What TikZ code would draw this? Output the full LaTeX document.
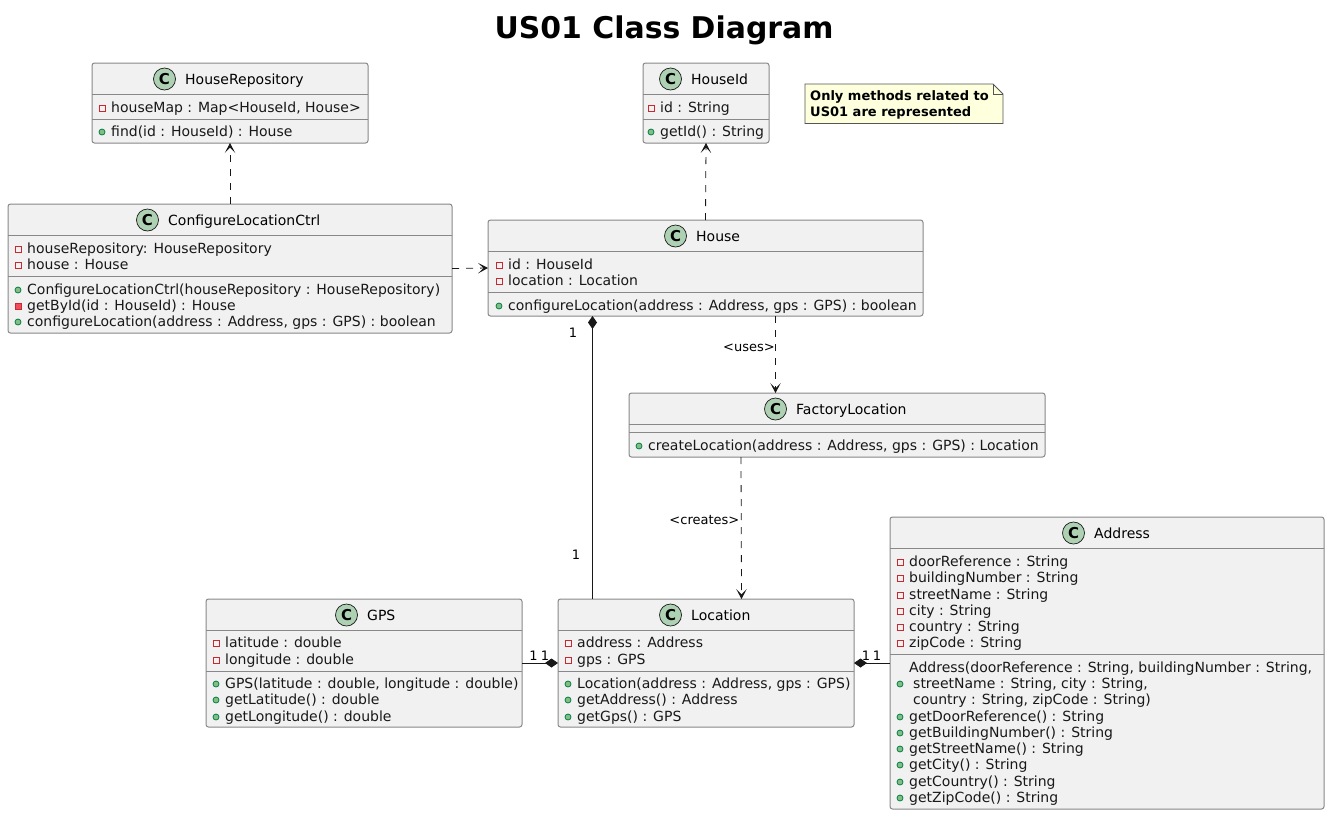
\documentclass[tikz,border=0pt]{standalone}
\usepackage{fontspec}
\setmainfont{DejaVu Sans}
\usetikzlibrary{arrows.meta,calc}
\definecolor{boxfill}{HTML}{F1F1F1}
\definecolor{boxline}{HTML}{888888}
\definecolor{ink}{HTML}{181818}
\definecolor{spot}{HTML}{ADD1B2}
\definecolor{fieldred}{HTML}{C82930}
\definecolor{privfill}{HTML}{F24D5C}
\definecolor{pubfill}{HTML}{84BE84}
\definecolor{publine}{HTML}{038048}
\definecolor{notefill}{HTML}{FEFFDD}
\definecolor{noteline}{HTML}{555555}
\newcounter{memc}
\tikzset{
  classbox/.style={draw=boxline,fill=boxfill,line width=1pt,rounded corners=2.5pt,inner sep=0pt,outer sep=0pt},
  sepline/.style={draw=boxline,line width=1pt},
  titletext/.style={font=\fontsize{14}{16}\selectfont,anchor=base,inner sep=0pt,text=black},
  membertext/.style={font=\fontsize{14}{16}\selectfont,anchor=base west,inner sep=0pt,text=ink},
  spotnode/.style={circle,draw=ink,fill=spot,line width=0.7pt,minimum size=22pt,inner sep=0pt,font=\fontsize{15}{15}\bfseries\selectfont},
  fieldmark/.style={draw=fieldred,line width=0.8pt,fill=none},
  privmark/.style={draw=fieldred,line width=0.8pt,fill=privfill},
  pubmark/.style={draw=publine,line width=0.8pt,fill=pubfill},
  dep/.style={draw=ink,line width=0.8pt,dash pattern=on 7pt off 7pt,-{Stealth[length=10pt,width=10.5pt,inset=5.5pt,fill=ink]}},
  comp/.style={draw=ink,line width=0.9pt,{Diamond[length=13pt,width=9pt,fill=ink]}-},
  mult/.style={font=\fontsize{13}{14}\selectfont,inner sep=0pt,text=black},
  deplabel/.style={font=\fontsize{13}{14}\selectfont,inner sep=0pt,text=black,anchor=east},
  notebody/.style={draw=noteline,line width=0.8pt,fill=notefill},
  notetext/.style={font=\fontsize{13}{16.2}\bfseries\selectfont,align=left,anchor=north west,inner sep=0pt,text=black}
}
% name, x1, y1, x2, y2, sep1, sep2, spot x, title x
\newcommand{\classat}[9]{%
  \pgfmathsetlengthmacro{\cw}{(#4)-(#2)}\pgfmathsetlengthmacro{\ch}{(#5)-(#3)}%
  \node[classbox,minimum width=\cw,minimum height=\ch] (#1) at ({((#2)+(#4))/2},{((#3)+(#5))/2}) {};
  \draw[sepline] (#2,#6) -- (#4,#6);
  \draw[sepline] (#2,#7) -- (#4,#7);
  \node[spotnode] (#1-spot) at (#8,{(#3)+16}) {C};
  \node[titletext,anchor=base west] (#1-title) at (#9,{(#3)+21}) {\classtitle};
}
\newcommand{\classtitle}{}
\newcommand{\memtext}[3]{\stepcounter{memc}\node[membertext] (m\arabic{memc}) at (#1,#2) {#3};}
\newcommand{\fld}[3]{\draw[fieldmark] ({(#1)-9-3},{(#2)-7}) rectangle ({(#1)-9+3},{(#2)-1}); \memtext{#1}{#2}{#3}}
\newcommand{\prv}[3]{\draw[privmark] ({(#1)-9-3},{(#2)-7}) rectangle ({(#1)-9+3},{(#2)-1}); \memtext{#1}{#2}{#3}}
\newcommand{\pub}[3]{\draw[pubmark] ({(#1)-9},{(#2)-4}) circle (3pt); \memtext{#1}{#2}{#3}}
\begin{document}
\begin{tikzpicture}[x=1pt,y=-1pt]
\useasboundingbox (0,0) rectangle (1330,815);
\fill[white] (0,0) rectangle (1330,815);
\node[font=\fontsize{29.9}{34}\bfseries\selectfont,anchor=base,inner sep=0pt,text=black] (heading) at (664,38) {US01 Class Diagram};

\renewcommand{\classtitle}{HouseRepository}
\classat{repo}{92}{63}{368}{143}{94.5}{119.5}{164.5}{185}
\fld{111}{112}{houseMap : Map<HouseId, House>}
\pub{111}{136}{find(id : HouseId) : House}

\renewcommand{\classtitle}{ConfigureLocationCtrl}
\classat{ctrl}{8}{204}{452}{333}{235.5}{276.5}{147.5}{168}
\fld{27}{253}{houseRepository: HouseRepository}
\fld{27}{269}{house : House}
\pub{27}{294}{ConfigureLocationCtrl(houseRepository : HouseRepository)}
\prv{27}{310}{getById(id : HouseId) : House}
\pub{27}{326}{configureLocation(address : Address, gps : GPS) : boolean}

\renewcommand{\classtitle}{HouseId}
\classat{hid}{643}{63}{769}{143}{94.5}{119.5}{670.5}{691}
\fld{660}{112}{id : String}
\pub{660}{136}{getId() : String}

\renewcommand{\classtitle}{House}
\classat{house}{488}{220}{923}{316}{251.5}{292.5}{675.5}{696}
\fld{508}{269}{id : HouseId}
\fld{508}{285}{location : Location}
\pub{508}{310}{configureLocation(address : Address, gps : GPS) : boolean}

\renewcommand{\classtitle}{FactoryLocation}
\classat{fact}{629}{393}{1045}{457}{424.5}{432.5}{775.5}{796}
\pub{648}{450}{createLocation(address : Address, gps : GPS) : Location}

\renewcommand{\classtitle}{GPS}
\classat{gps}{206}{599}{522}{727}{630.5}{671.5}{346.5}{367}
\fld{225}{647}{latitude : double}
\fld{225}{664}{longitude : double}
\pub{225}{688}{GPS(latitude : double, longitude : double)}
\pub{225}{704}{getLatitude() : double}
\pub{225}{721}{getLongitude() : double}

\renewcommand{\classtitle}{Location}
\classat{loc}{558}{599}{854}{727}{630.5}{671.5}{670.5}{691}
\fld{577}{647}{address : Address}
\fld{577}{664}{gps : GPS}
\pub{577}{688}{Location(address : Address, gps : GPS)}
\pub{577}{704}{getAddress() : Address}
\pub{577}{721}{getGps() : GPS}

\renewcommand{\classtitle}{Address}
\classat{addr}{890}{517}{1324}{809}{548.5}{654.5}{1073.5}{1094}
\fld{909}{566}{doorReference : String}
\fld{909}{582}{buildingNumber : String}
\fld{909}{599}{streetName : String}
\fld{909}{615}{city : String}
\fld{909}{631}{country : String}
\fld{909}{647}{zipCode : String}
\memtext{909}{672}{Address(doorReference : String, buildingNumber : String,}
\pub{909}{688}{\hspace{4pt}streetName : String, city : String,}
\memtext{913}{704}{country : String, zipCode : String)}
\pub{909}{721}{getDoorReference() : String}
\pub{909}{737}{getBuildingNumber() : String}
\pub{909}{753}{getStreetName() : String}
\pub{909}{769}{getCity() : String}
\pub{909}{786}{getCountry() : String}
\pub{909}{802}{getZipCode() : String}

% note
\draw[notebody] (805,84) -- (993,84) -- (1003,94) -- (1003,123.5) -- (805,123.5) -- cycle;
\draw[notebody,fill=none] (993,84) -- (993,94) -- (1003,94);
\node[notetext] (note) at (810,90) {Only methods related to\\US01 are represented};

% connectors
\draw[dep] (ctrl.north) -- (repo.south);
\draw[dep] (house.north) -- (hid.south);
\draw[dep] (ctrl.east) -- (house.west);
\draw[dep] ([xshift=70pt]house.south) -- ([xshift=-61.5pt]fact.north);
\draw[dep] ([xshift=-96pt]fact.south) -- ([xshift=35.5pt]loc.north);
\draw[comp] ([xshift=-113pt]house.south) -- ([xshift=-113.5pt]loc.north);
\draw[comp] (loc.west) -- (gps.east);
\draw[comp] (loc.east) -- (addr.west);

\node[deplabel] (lbluses) at (775,347.5) {<uses>};
\node[deplabel] (lblcreates) at (739.5,520.5) {<creates>};
\node[mult] (m-a) at (573,333) {1};
\node[mult] (m-b) at (576,555) {1};
\node[mult] (m-c) at (533.5,656) {1};
\node[mult] (m-d) at (545,656) {1};
\node[mult] (m-e) at (866,656) {1};
\node[mult] (m-f) at (877,656) {1};
\end{tikzpicture}
\end{document}
